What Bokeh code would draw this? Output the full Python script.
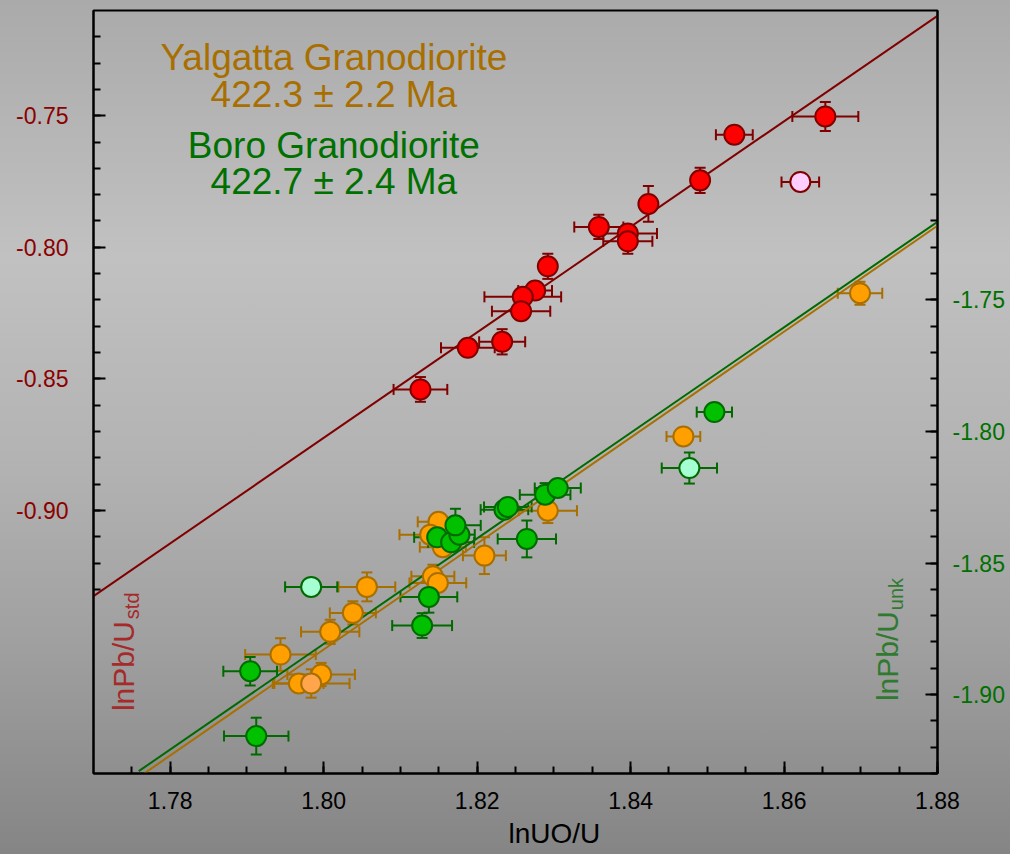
import math
from bokeh.plotting import figure
from bokeh.models import (Range1d, LinearAxis, FixedTicker, PrintfTickFormatter,
                          Whisker, TeeHead, ColumnDataSource, Label, Title)
from bokeh.embed import file_html
from bokeh.resources import INLINE

# ---------------- data ----------------
# standard zircon (left axis, lnPb/U std)
std_x = [1.86538, 1.85352, 1.84906, 1.84232, 1.83586, 1.83964, 1.83964, 1.82921,
         1.82756, 1.82595, 1.82573, 1.82326, 1.81879, 1.81261]
std_y = [-0.75027, -0.75721, -0.77456, -0.78352, -0.79226, -0.79480, -0.79772, -0.80721,
         -0.81644, -0.81883, -0.82430, -0.83592, -0.83819, -0.85402]
std_xerr = [0.0043, 0.0024, 0.0010, 0.0010, 0.0032, 0.0038, 0.0032, 0.0010,
            0.0022, 0.0050, 0.0038, 0.0030, 0.0035, 0.0035]
std_yerr = [0.0055, 0.0020, 0.0048, 0.0068, 0.0046, 0.0030, 0.0047, 0.0048,
            0.0030, 0.0030, 0.0030, 0.0048, 0.0020, 0.0047]
# rejected standard
std_rej_x = [1.86212]
std_rej_y = [-0.77517]
std_rej_xerr = [0.00245]
std_rej_yerr = [0.0020]

# Yalgatta Granodiorite (right axis, lnPb/U unk)
yal_x = [1.86990, 1.84688, 1.82921, 1.82095, 1.81496, 1.81388, 1.81553, 1.81423,
         1.81488, 1.80563, 1.80380, 1.80085, 1.79437, 1.79967, 1.79677]
yal_y = [-1.74746, -1.80190, -1.83011, -1.84719, -1.83436, -1.83922, -1.84396, -1.85505,
         -1.85756, -1.85907, -1.86895, -1.87616, -1.88478, -1.89237, -1.89579]
yal_xerr = [0.0029, 0.0022, 0.0038, 0.0028, 0.0027, 0.0040, 0.0030, 0.0028,
            0.0037, 0.0037, 0.0030, 0.0038, 0.0046, 0.0044, 0.0032]
yal_yerr = [0.0044, 0.0020, 0.0047, 0.0070, 0.0030, 0.0030, 0.0030, 0.0044,
            0.0030, 0.0055, 0.0044, 0.0046, 0.0062, 0.0044, 0.0030]
yal_rej_x = [1.79837]
yal_rej_y = [-1.89579]
yal_rej_xerr = [0.0050]
yal_rej_yerr = [0.0054]

# Boro Granodiorite (right axis, lnPb/U unk)
boro_x = [1.79042, 1.79121, 1.81283, 1.81371, 1.82648, 1.81479, 1.81661, 1.81769,
          1.81717, 1.82356, 1.82400, 1.82886, 1.83051, 1.85092]
boro_y = [-1.89112, -1.91579, -1.87377, -1.86287, -1.84085, -1.84024, -1.84214, -1.83922,
          -1.83569, -1.82973, -1.82870, -1.82403, -1.82149, -1.79263]
boro_xerr = [0.0035, 0.0042, 0.0039, 0.0037, 0.0038, 0.0030, 0.0030, 0.0020,
             0.0033, 0.0031, 0.0031, 0.0033, 0.0030, 0.0023]
boro_yerr = [0.0054, 0.0070, 0.0047, 0.0060, 0.0070, 0.0030, 0.0030, 0.0030,
             0.0063, 0.0030, 0.0030, 0.0044, 0.0030, 0.0020]
boro_rej_x = [1.79837, 1.84766]
boro_rej_y = [-1.85907, -1.81390]
boro_rej_xerr = [0.0034, 0.0036]
boro_rej_yerr = [0.0020, 0.0059]

# regression lines (end points)
std_line_x = [1.7700, 1.8800]
std_line_y = [-0.9326, -0.7120]
boro_line_x = [1.7759, 1.8800]
boro_line_y = [-1.9291, -1.7203]
yal_line_x = [1.7766, 1.8800]
yal_line_y = [-1.9300, -1.7218]

x_major = [1.78, 1.80, 1.82, 1.84, 1.86, 1.88]
x_minor = [round(1.775 + 0.005 * i, 3) for i in range(22)]
yl_major = [-0.90, -0.85, -0.80, -0.75]
yl_minor = [round(-0.93 + 0.01 * i, 2) for i in range(22)]
yr_major = [-1.90, -1.85, -1.80, -1.75]
yr_minor = [round(-1.93 + 0.01 * i, 2) for i in range(23)]

FONT = "Liberation Sans"
RED_D = "#800000"
ORA_D = "#a86f00"
GRN_D = "#006a00"

# ---------------- figure ----------------
p = figure(width=1010, height=854, output_backend="svg", toolbar_location=None,
           x_range=Range1d(1.77, 1.88), y_range=Range1d(-1.0, -0.71),
           min_border_left=93, min_border_right=73, min_border_top=10, min_border_bottom=81,
           background_fill_color=None, border_fill_color=None)
p.styles = {"background": "linear-gradient(to bottom, #aaaaaa 0%, #c1c1c1 30%, #b2b2b2 55%, #a0a0a0 75%, #858585 100%)"}
p.extra_y_ranges = {"unk": Range1d(-1.93, -1.64)}
p.xgrid.visible = False
p.ygrid.visible = False
p.outline_line_color = "black"
p.outline_line_width = 2

right = LinearAxis(y_range_name="unk")
p.add_layout(right, "right")

def style_axis(ax, major, minor, color, standoff):
    ax.ticker = FixedTicker(ticks=major, minor_ticks=minor)
    ax.formatter = PrintfTickFormatter(format="%.2f")
    ax.axis_line_width = 2
    ax.axis_line_color = "black"
    ax.major_tick_line_width = 2
    ax.minor_tick_line_width = 2
    ax.major_tick_in = 12
    ax.major_tick_out = 0
    ax.minor_tick_in = 7
    ax.minor_tick_out = 0
    ax.major_label_text_font = FONT
    ax.major_label_text_font_size = "23px"
    ax.major_label_text_color = color
    ax.major_label_standoff = standoff

style_axis(p.xaxis[0], x_major, x_minor, "black", 18)
style_axis(p.yaxis[0], yl_major, yl_minor, "#8b0000", 25)
style_axis(right, yr_major, yr_minor, "#007000", 15)

# x axis title, placed below the tick labels
xt = Title(text="lnUO/U", align="left", offset=409, text_font=FONT,
           text_font_size="28px", text_font_style="normal", text_color="black",
           standoff=8, vertical_align="bottom", padding=(6, 0, 0, 0))
p.add_layout(xt, "below")

# regression lines
p.line(std_line_x, std_line_y, line_color=RED_D, line_width=2)
p.line(boro_line_x, boro_line_y, line_color=GRN_D, line_width=2, y_range_name="unk")
p.line(yal_line_x, yal_line_y, line_color=ORA_D, line_width=2, y_range_name="unk")

def errorbars(xs, ys, xe, ye, color, yname="default"):
    src = ColumnDataSource(dict(
        x=xs, y=ys,
        xl=[a - b for a, b in zip(xs, xe)], xu=[a + b for a, b in zip(xs, xe)],
        yl=[a - b for a, b in zip(ys, ye)], yu=[a + b for a, b in zip(ys, ye)]))
    for dim, base, lo, up in (("width", "y", "xl", "xu"), ("height", "x", "yl", "yu")):
        w = Whisker(source=src, base=base, lower=lo, upper=up, dimension=dim,
                    line_color=color, line_width=2, y_range_name=yname,
                    lower_head=TeeHead(size=11, line_color=color, line_width=2),
                    upper_head=TeeHead(size=11, line_color=color, line_width=2))
        p.add_layout(w)

errorbars(yal_x, yal_y, yal_xerr, yal_yerr, ORA_D, "unk")
errorbars(yal_rej_x, yal_rej_y, yal_rej_xerr, yal_rej_yerr, ORA_D, "unk")
errorbars(boro_x, boro_y, boro_xerr, boro_yerr, GRN_D, "unk")
errorbars(boro_rej_x, boro_rej_y, boro_rej_xerr, boro_rej_yerr, GRN_D, "unk")
errorbars(std_x, std_y, std_xerr, std_yerr, RED_D)
errorbars(std_rej_x, std_rej_y, std_rej_xerr, std_rej_yerr, RED_D)

SZ = 20
p.scatter(yal_x, yal_y, size=SZ, fill_color="#ff9f00", line_color=ORA_D, line_width=2, y_range_name="unk")
p.scatter(yal_rej_x, yal_rej_y, size=SZ, fill_color="#ffa64d", line_color=ORA_D, line_width=2, y_range_name="unk")
p.scatter(boro_x, boro_y, size=SZ, fill_color="#00c000", line_color=GRN_D, line_width=2, y_range_name="unk")
p.scatter(boro_rej_x, boro_rej_y, size=SZ, fill_color="#a6ffd2", line_color=GRN_D, line_width=2, y_range_name="unk")
p.scatter(std_x, std_y, size=SZ, fill_color="#ff0000", line_color=RED_D, line_width=2)
p.scatter(std_rej_x, std_rej_y, size=SZ, fill_color="#ffd0ff", line_color=RED_D, line_width=2)

# ---------------- texts ----------------
def lab(x, y, text, size, color, align="center", angle=0.0):
    p.add_layout(Label(x=x, y=y, text=text, text_font=FONT, text_font_size=size,
                       text_color=color, text_align=align, text_baseline="alphabetic",
                       angle=angle))

lab(1.80133, -0.72772, "Yalgatta Granodiorite", "37px", ORA_D)
lab(1.80133, -0.74203, "422.3 ± 2.2 Ma", "37px", ORA_D)
lab(1.80133, -0.76128, "Boro Granodiorite", "37px", "#007000")
lab(1.80133, -0.77518, "422.7 ± 2.4 Ma", "37px", "#007000")

lab(1.77388, -0.97627, "lnPb/U", "30px", "#a52a2a", "left", math.pi / 2)
lab(1.77505, -0.94134, "std", "20px", "#a52a2a", "left", math.pi / 2)
lab(1.87346, -0.97247, "lnPb/U", "30px", "#2f7a2f", "left", math.pi / 2)
lab(1.87460, -0.93793, "unk", "20px", "#2f7a2f", "left", math.pi / 2)

open("out.html", "w").write(file_html(p, INLINE))
